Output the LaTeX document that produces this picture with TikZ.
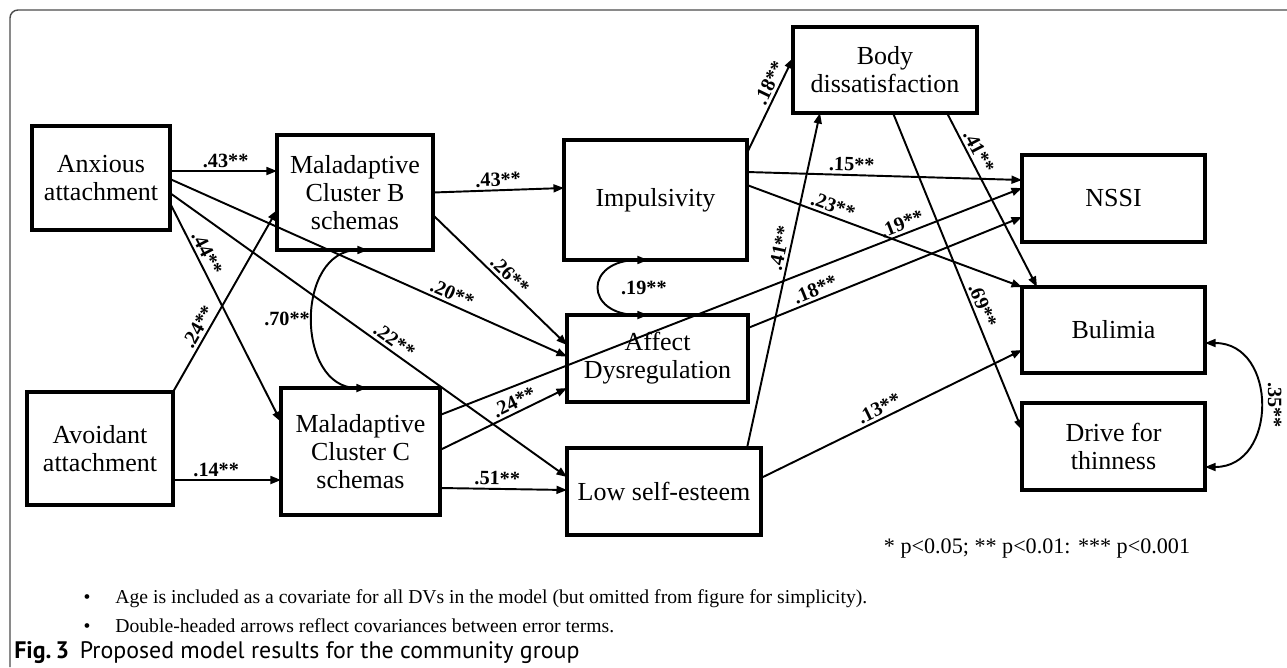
\documentclass[tikz,border=0pt]{standalone}
\usepackage{fontspec}
\setmainfont{Liberation Serif}
\newfontfamily\capfont{PT Sans}
\usetikzlibrary{arrows.meta, calc}

\begin{document}
\begin{tikzpicture}[x=0.02cm, y=-0.02cm,
    box/.style={draw, line width=2pt, inner sep=0pt, outer sep=0pt, align=center, font=\fontsize{14.8}{16}\selectfont},
    reg/.style={-{Triangle[length=6pt, width=4.5pt]}, line width=1.1pt},
    cov/.style={{Triangle[length=6pt, width=4.5pt]}-{Triangle[length=6pt, width=4.5pt]}, line width=1.1pt},
    coef/.style={font=\fontsize{11.5}{13}\selectfont\bfseries, inner sep=1.5pt, sloped},
    note/.style={inner sep=0pt, font=\fontsize{11.2}{13}\selectfont}]
    \useasboundingbox (0,0) rectangle (1287,667);
    \draw[gray!60!black, line width=0.8pt, rounded corners=0.16cm] (10,667) -- (10,10) -- (1287,10);

    \node (anx) [box, minimum width=2.76cm, minimum height=2.08cm] at (101,178) {Anxious\\attachment};
    \node (clb) [box, minimum width=3.12cm, minimum height=2.30cm] at (355,192.5) {Maladaptive\\Cluster B\\schemas};
    \node (avo) [box, minimum width=2.92cm, minimum height=2.26cm] at (100,448.5) {Avoidant\\attachment};
    \node (clc) [box, minimum width=3.18cm, minimum height=2.54cm] at (360.5,451.5) {Maladaptive\\Cluster C\\schemas};
    \node (imp) [box, minimum width=3.66cm, minimum height=2.40cm] at (655.5,200) {Impulsivity};
    \node (aff) [box, minimum width=3.62cm, minimum height=1.74cm] at (657.5,358.5) {Affect\\Dysregulation};
    \node (lse) [box, minimum width=3.88cm, minimum height=1.74cm] at (664,491.5) {Low self-esteem};
    \node (body) [box, minimum width=3.68cm, minimum height=1.72cm] at (885,70) {Body\\dissatisfaction};
    \node (nssi) [box, minimum width=3.66cm, minimum height=1.74cm] at (1113.5,198.5) {NSSI};
    \node (bul) [box, minimum width=3.66cm, minimum height=1.72cm] at (1113.5,330) {Bulimia};
    \node (dft) [box, minimum width=3.66cm, minimum height=1.74cm] at (1113.5,446.5) {Drive for\\thinness};

    \draw[reg] ($(anx.east)+(0,-7)$) -- node[coef, pos=0.52, above] {.43**} ($(clb.west)+(0,-21.5)$);
    \draw[reg] ($(anx.east)+(0,1)$) -- node[coef, pos=0.70, above] {.20**} ($(aff.west)+(0,-2)$);
    \draw[reg] ($(anx.east)+(0,15)$) -- node[coef, pos=0.55, above] {.22**} ($(lse.west)+(0,-14.5)$);
    \draw[reg] ($(anx.east)+(0,25)$) -- node[coef, pos=0.25, above] {.44**} ($(clc.west)+(0,-29.5)$);
    \draw[reg] (avo.north east) -- node[coef, pos=0.33, above] {.24**} ($(clb.west)+(0,17.5)$);
    \draw[reg] ($(avo.east)+(0,31.5)$) -- node[coef, pos=0.4, above] {.14**} ($(clc.west)+(0,28.5)$);
    \draw[cov] ($(clb.south)+(13,0)$) .. controls ($(clb.south)+(-60,0)$) and ($(clc.north)+(-65,0)$) .. node[coef, sloped=false, left] {.70**} ($(clc.north)+(6.5,0)$);

    \draw[reg] (clb.east) -- node[coef, pos=0.5, above] {.43**} ($(imp.west)+(0,-12)$);
    \draw[reg] ($(clb.east)+(0,22.5)$) -- node[coef, pos=0.52, above] {.26**} ($(aff.west)+(0,-13.5)$);
    \draw[reg] ($(clc.east)+(0,-36.5)$) -- node[coef, pos=0.80, above] {.19**} ($(nssi.west)+(0,-10.5)$);
    \draw[reg] ($(clc.east)+(0,-1.5)$) -- node[coef, pos=0.62, above] {.24**} ($(aff.west)+(0,29.5)$);
    \draw[reg] ($(clc.east)+(0,36.5)$) -- node[coef, pos=0.45, above] {.51**} ($(lse.west)+(0,-1.5)$);

    \draw[reg] ($(imp.east)+(0,-28)$) -- node[coef, pos=0.38, above] {.15**} ($(nssi.west)+(0,-18.5)$);
    \draw[reg] ($(imp.east)+(0,-15)$) -- node[coef, pos=0.30, above] {.23**} (bul.north west);
    \draw[reg] ($(imp.east)+(0,-47)$) -- node[coef, pos=0.69, above] {.18**} ($(body.west)+(0,-12)$);
    \draw[cov] ($(imp.south)+(-7.5,0)$) .. controls ($(imp.south)+(-71.5,0)$) and ($(aff.north)+(-73.5,0)$) .. node[coef, sloped=false, right=10pt] {.19**} ($(aff.north)+(-9.5,0)$);
    \draw[reg] ($(aff.east)+(0,-30.5)$) -- node[coef, pos=0.26, above] {.18**} ($(nssi.west)+(0,18.5)$);
    \draw[reg] ($(lse.north)+(83,0)$) -- node[coef, pos=0.59, above] {.41**} ($(body.south)+(-65,0)$);
    \draw[reg] ($(lse.east)+(0,-13.5)$) -- node[coef, pos=0.47, above] {.13**} ($(bul.west)+(0,20)$);

    \draw[reg] ($(body.south)+(62,0)$) -- node[coef, pos=0.25, above] {.41**} ($(bul.north)+(-76.5,0)$);
    \draw[reg] ($(body.south)+(8,0)$) -- node[coef, pos=0.62, above] {.69**} ($(dft.west)+(0,-16.5)$);
    \draw[cov] ($(bul.east)+(0,13)$) .. controls ($(bul.east)+(73,13)$) and ($(dft.east)+(73,20.5)$) .. node[coef, sloped=false, rotate=-90, anchor=south, inner sep=4pt] {.35**} ($(dft.east)+(0,20.5)$);

    \node (sig) [anchor=base, font=\fontsize{12.6}{14}\selectfont] at (1037,553) {* p<0.05; ** p<0.01: *** p<0.001};
    \node (dot1) [note, anchor=base] at (87,603) {\textbullet};
    \node (age) [note, anchor=base west] at (115,603) {Age is included as a covariate for all DVs in the model (but omitted from figure for simplicity).};
    \node (dot2) [note, anchor=base] at (87,632) {\textbullet};
    \node (dbl) [note, anchor=base west] at (115,632) {Double-headed arrows reflect covariances between error terms.};
    \node (cap) [anchor=base west, inner sep=0pt, font=\capfont\fontsize{13.6}{15}\selectfont] at (14,658) {\textbf{Fig.\,3}\hspace{0.45em}Proposed model results for the community group};
\end{tikzpicture}
\end{document}
